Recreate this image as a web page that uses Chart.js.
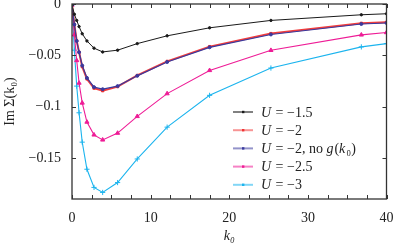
<!DOCTYPE html>
<html>
<head>
<meta charset="utf-8">
<script src="https://cdn.jsdelivr.net/npm/chart.js@4.4.0/dist/chart.umd.min.js"></script>
<style>
  html, body { margin: 0; padding: 0; background: #fff; }
  #wrap { width: 394px; height: 246px; }
</style>
</head>
<body>
<div id="wrap"><canvas id="grafica" width="394" height="246"></canvas></div>
<script>
// k0 grid (shared by all curves)
const k0 = [0, 0.3, 0.6, 0.9, 1.3, 1.9, 2.8, 3.9, 5.8, 8.3, 12.1, 17.5, 25.3, 36.8, 40];

const imU15  = [-0.001, -0.010, -0.016, -0.022, -0.029, -0.036, -0.043, -0.0467, -0.045, -0.0386, -0.031, -0.0232, -0.016, -0.0105, -0.0095];
const imU2   = [-0.001, -0.020, -0.036, -0.047, -0.061, -0.073, -0.082, -0.0845, -0.0805, -0.0696, -0.0559, -0.0415, -0.0288, -0.0188, -0.0178];
const imU2ng = [-0.001, -0.020, -0.036, -0.047, -0.060, -0.072, -0.081, -0.0830, -0.0800, -0.0700, -0.0565, -0.0422, -0.0297, -0.0195, -0.0185];
const imU25  = [-0.001, -0.030, -0.055, -0.077, -0.0964, -0.115, -0.1275, -0.1324, -0.1258, -0.1095, -0.0873, -0.0647, -0.0451, -0.0301, -0.0278];
const imU3   = [-0.001, -0.045, -0.080, -0.106, -0.1346, -0.161, -0.1787, -0.1836, -0.174, -0.151, -0.120, -0.089, -0.0624, -0.0418, -0.0386];

const seriesLabels = ['U = −1.5', 'U = −2', 'U = −2, no g(k₀)', 'U = −2.5', 'U = −3'];

const xTicks = [0, 10, 20, 30, 40];
const xTickLabels = ['0', '10', '20', '30', '40'];
const yTicks = [0, -0.05, -0.1, -0.15];
const yTickLabels = ['0', '−0.05', '−0.1', '−0.15'];

const FONT = 'Liberation Serif';

function pts(ys) {
    return ys.map((y, i) => ({ x: k0[i], y: y }));
}

// marco + ticks hacia dentro, como en gnuplot
const marcoPlugin = {
    id: 'marco',
    afterDatasetsDraw(chart) {
        const ctx = chart.ctx;
        const a = chart.chartArea;
        const xs = chart.scales.x, ys = chart.scales.y;
        ctx.save();
        ctx.strokeStyle = '#333';
        ctx.lineWidth = 1;
        ctx.beginPath();
        for (let v = 0; v <= 40; v += 2.5) {
            const px = Math.round(xs.getPixelForValue(v)) + 0.5;
            ctx.moveTo(px, a.bottom); ctx.lineTo(px, a.bottom - 4);
            ctx.moveTo(px, a.top); ctx.lineTo(px, a.top + 4);
        }
        yTicks.forEach(v => {
            const py = Math.round(ys.getPixelForValue(v)) + 0.5;
            ctx.moveTo(a.left, py); ctx.lineTo(a.left + 4, py);
            ctx.moveTo(a.right, py); ctx.lineTo(a.right - 4, py);
        });
        ctx.stroke();
        ctx.lineWidth = 1.3;
        ctx.strokeRect(a.left, a.top, a.right - a.left, a.bottom - a.top);
        ctx.restore();
    }
};

// leyenda dentro del grafico (abajo a la derecha)
const leyendaPlugin = {
    id: 'leyenda',
    afterDraw(chart) {
        const ctx = chart.ctx;
        const x0 = 233, y0 = 112, paso = 18.2;
        ctx.save();
        chart.data.datasets.forEach((ds, i) => {
            const y = y0 + i * paso;
            ctx.globalAlpha = 0.55;
            ctx.strokeStyle = ds.borderColor;
            ctx.lineWidth = 2;
            ctx.beginPath();
            ctx.moveTo(x0, y); ctx.lineTo(x0 + 20, y);
            ctx.stroke();
            ctx.globalAlpha = 1;
            ctx.fillStyle = ds.borderColor;
            ctx.fillRect(x0 + 9, y - 1.2, 2.4, 2.4);
            // texto: letras U, g, k en cursiva
            let tx = x0 + 28;
            ctx.fillStyle = '#222';
            ctx.textBaseline = 'middle';
            for (const ch of ds.label) {
                const it = /[Ugk]/.test(ch);
                ctx.font = (it ? 'italic ' : '') + '14px "' + FONT + '"';
                ctx.fillText(ch, tx, y + 1);
                tx += ctx.measureText(ch).width + (it ? 1 : 0);
            }
        });
        ctx.restore();
    }
};

function main() {
    const ctx = document.getElementById('grafica').getContext('2d');

    const estilos = [
        { color: '#1a1a1a', width: 1, point: 'circle', r: 1.2 },
        { color: 'rgba(238,40,40,0.9)', width: 2, point: 'rect', r: 1.6 },
        { color: '#3a3a9e', width: 1.2, point: 'circle', r: 1.5 },
        { color: '#ee1c96', width: 1.1, point: 'triangle', r: 2.4 },
        { color: '#1cb4ee', width: 1.1, point: 'cross', r: 2.6 }
    ];
    const series = [imU15, imU2, imU2ng, imU25, imU3];
    const orden = [1, 3, 2, 4, 5];

    const datasets = series.map((ys, i) => ({
        label: seriesLabels[i],
        data: pts(ys),
        borderColor: estilos[i].color,
        backgroundColor: estilos[i].color,
        borderWidth: estilos[i].width,
        pointStyle: estilos[i].point,
        pointRadius: estilos[i].r,
        pointBorderWidth: 1,
        pointHoverRadius: 0,
        tension: 0,
        fill: false,
        order: orden[i]
    }));

    new Chart(ctx, {
        type: 'line',
        data: { datasets: datasets },
        options: {
            responsive: false,
            animation: { duration: 0 },
            layout: { padding: { top: 4, right: 7.5, left: 0, bottom: 0 } },
            plugins: { legend: { display: false }, tooltip: { enabled: false } },
            scales: {
                x: {
                    type: 'linear',
                    min: 0, max: 40,
                    grid: { display: false, drawTicks: false },
                    border: { display: false },
                    afterBuildTicks: s => { s.ticks = xTicks.map(v => ({ value: v })); },
                    ticks: {
                        padding: 11,
                        color: '#222',
                        font: { family: FONT, size: 14 },
                        maxRotation: 0,
                        callback: (v) => xTickLabels[xTicks.indexOf(v)]
                    },
                    title: {
                        display: true, text: 'k₀',
                        color: '#222',
                        font: { family: FONT, size: 14, style: 'italic' },
                        padding: { top: 0, bottom: 1 }
                    },
                    afterFit: s => { s.height = 47; s.paddingLeft = 0; s.paddingRight = 0; }
                },
                y: {
                    type: 'linear',
                    min: -0.19, max: 0,
                    grid: { display: false, drawTicks: false },
                    border: { display: false },
                    afterBuildTicks: s => { s.ticks = yTicks.map(v => ({ value: v })); },
                    ticks: {
                        padding: 11,
                        color: '#222',
                        font: { family: FONT, size: 14 },
                        callback: (v) => yTickLabels[yTicks.indexOf(v)]
                    },
                    title: {
                        display: true, text: 'Im Σ(k₀)',
                        color: '#222',
                        font: { family: FONT, size: 14 },
                        padding: { top: 2, bottom: 0 }
                    },
                    afterFit: s => { s.width = 72; s.paddingTop = 0; s.paddingBottom = 0; }
                }
            }
        },
        plugins: [marcoPlugin, leyendaPlugin]
    });
}

document.addEventListener('DOMContentLoaded', function() {
    main();
});
</script>
</body>
</html>
